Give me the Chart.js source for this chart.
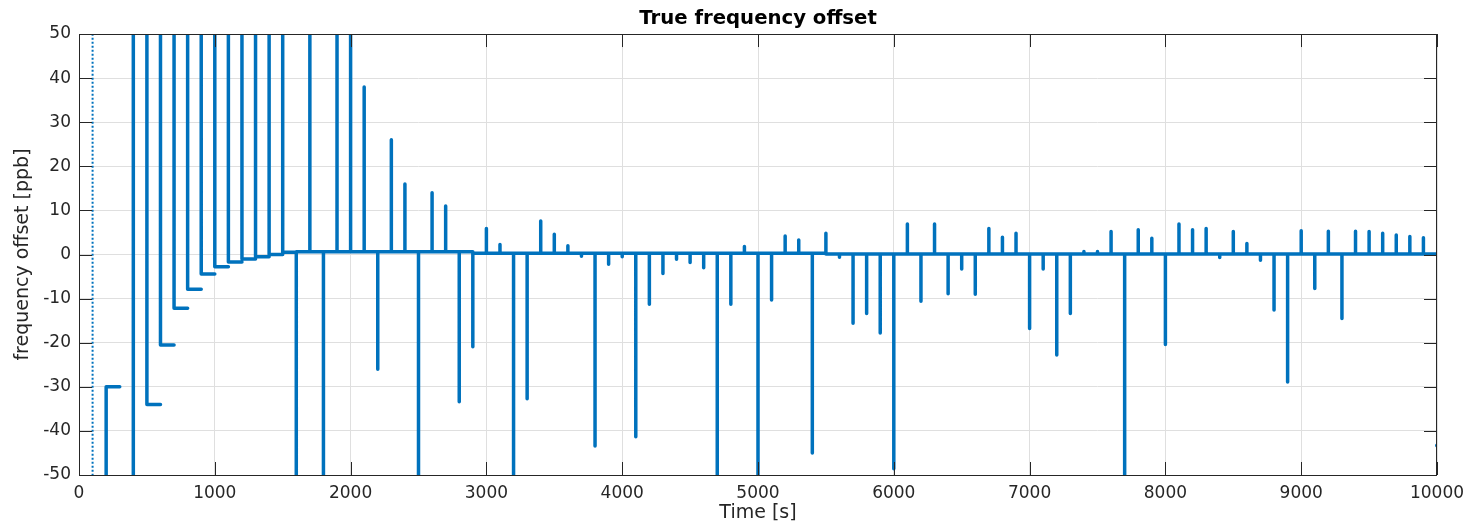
<!DOCTYPE html>
<html>
<head>
<meta charset="utf-8">
<script src="https://cdn.jsdelivr.net/npm/chart.js@4.4.1/dist/chart.umd.min.js"></script>
<style>
  html, body { margin: 0; padding: 0; background: #ffffff; }
  canvas { display: block; }
</style>
</head>
<body>
<canvas id="chart" width="1476" height="526"></canvas>
<script>
// event times [s] - one correction step every 100 s
const eventTimes = [
  200, 300, 400, 500, 600, 700, 800, 900, 1000, 1100,
  1200, 1300, 1400, 1500, 1600, 1700, 1800, 1900, 2000, 2100,
  2200, 2300, 2400, 2500, 2600, 2700, 2800, 2900, 3000, 3100,
  3200, 3300, 3400, 3500, 3600, 3700, 3800, 3900, 4000, 4100,
  4200, 4300, 4400, 4500, 4600, 4700, 4800, 4900, 5000, 5100,
  5200, 5300, 5400, 5500, 5600, 5700, 5800, 5900, 6000, 6100,
  6200, 6300, 6400, 6500, 6600, 6700, 6800, 6900, 7000, 7100,
  7200, 7300, 7400, 7500, 7600, 7700, 7800, 7900, 8000, 8100,
  8200, 8300, 8400, 8500, 8600, 8700, 8800, 8900, 9000, 9100,
  9200, 9300, 9400, 9500, 9600, 9700, 9800, 9900
];

// peak offset right after each step [ppb] (+/-80 = off the plotted range)
const peakOffsets = [
  -80, -80, -80, 80, 80, 80, 80, 80, 80, 80,
  80, 80, 80, 80, -80, 80, -80, 80, 80, 38,
  -26, 26, 16, -80, 14, 11, -33.4, -20.9, 5.9, 2.3,
  -80, -32.7, 7.6, 4.6, 2.0, -0.4, -43.4, -2.2, -0.5, -41.3,
  -11.3, -4.3, -1.1, -1.8, -3.0, -80, -11.3, 1.8, -80, -10.3,
  4.2, 3.3, -45, 4.8, -0.6, -15.6, -13.4, -17.8, -48.6, 6.9,
  -10.6, 6.9, -8.9, -3.3, -9.0, 5.9, 3.9, 4.8, -16.8, -3.3,
  -22.8, -13.4, 0.7, 0.7, 5.2, -80, 5.6, 3.7, -20.4, 6.9,
  5.6, 5.9, -0.7, 5.2, 2.5, -1.3, -12.6, -28.9, 5.4, -7.7,
  5.3, -14.5, 5.3, 5.2, 4.8, 4.4, 4.1, 3.8
];

// level the offset settles to until the next step [ppb]
const settledOffsets = [
  -30, -80, 80, -34, -20.5, -12.2, -7.9, -4.4, -2.8, -1.7,
  -1.0, -0.5, 0.0, 0.5, 0.6, 0.6, 0.6, 0.6, 0.6, 0.6,
  0.6, 0.6, 0.6, 0.6, 0.6, 0.6, 0.6, 0.3, 0.3, 0.3,
  0.3, 0.3, 0.3, 0.3, 0.3, 0.3, 0.3, 0.3, 0.3, 0.3,
  0.3, 0.3, 0.3, 0.3, 0.3, 0.3, 0.3, 0.3, 0.3, 0.3,
  0.3, 0.3, 0.3, 0.1, 0.1, 0.1, 0.1, 0.1, 0.1, 0.1,
  0.1, 0.1, 0.1, 0.1, 0.1, 0.1, 0.1, 0.1, 0.1, 0.1,
  0.1, 0.1, 0.1, 0.1, 0.1, 0.1, 0.1, 0.1, 0.1, 0.1,
  0.1, 0.1, 0.1, 0.1, 0.1, 0.1, 0.1, 0.1, 0.1, 0.1,
  0.1, 0.1, 0.1, 0.1, 0.1, 0.1, 0.1, 0.1
];

// first sweep through the whole range (sparse samples, looks dotted)
const initialSweep = [{ x: 100, y: 80 }, { x: 100, y: -80 }];
// last logged sample
const finalSample = [{ x: 10000, y: -43.3 }];
const endTime = 10000;

const xTicks = [0, 1000, 2000, 3000, 4000, 5000, 6000, 7000, 8000, 9000, 10000];
const yTicks = [-50, -40, -30, -20, -10, 0, 10, 20, 30, 40, 50];

const matlabBlue = '#0072BD';
const axisColor = '#262626';
const TICK_LEN = 13;

// jumps are instantaneous (no samples), so the line is broken before each peak
function buildTrace() {
  const pts = [];
  eventTimes.forEach((t, i) => {
    if (i > 0) {
      pts.push({ x: t, y: settledOffsets[i - 1] });
      pts.push({ x: t, y: null });
    }
    pts.push({ x: t, y: peakOffsets[i] });
    pts.push({ x: t, y: settledOffsets[i] });
  });
  pts.push({ x: endTime, y: settledOffsets[settledOffsets.length - 1] });
  return pts;
}

const matlabFrame = {
  id: 'matlabFrame',
  afterDatasetsDraw(chart) {
    const { ctx, chartArea: a, scales } = chart;
    ctx.save();
    ctx.strokeStyle = axisColor;
    ctx.lineWidth = 1;
    ctx.beginPath();
    xTicks.forEach((v) => {
      const px = Math.round(scales.x.getPixelForValue(v)) + 0.5;
      ctx.moveTo(px, a.bottom);
      ctx.lineTo(px, a.bottom - TICK_LEN);
      ctx.moveTo(px, a.top);
      ctx.lineTo(px, a.top + TICK_LEN);
    });
    yTicks.forEach((v) => {
      const py = Math.round(scales.y.getPixelForValue(v)) + 0.5;
      ctx.moveTo(a.left, py);
      ctx.lineTo(a.left + TICK_LEN, py);
      ctx.moveTo(a.right, py);
      ctx.lineTo(a.right - TICK_LEN, py);
    });
    ctx.stroke();
    ctx.strokeRect(Math.round(a.left) + 0.5, Math.round(a.top) + 0.5,
      Math.round(a.width) - 1, Math.round(a.height));
    ctx.restore();
  }
};

Chart.defaults.font.family = '"DejaVu Sans", sans-serif';
Chart.defaults.color = axisColor;

new Chart(document.getElementById('chart').getContext('2d'), {
  type: 'line',
  data: {
    datasets: [
      {
        label: 'offset',
        data: buildTrace(),
        borderColor: matlabBlue,
        backgroundColor: matlabBlue,
        borderWidth: 3.5,
        borderJoinStyle: 'round',
        borderCapStyle: 'round',
        pointRadius: 0,
        spanGaps: false,
        tension: 0
      },
      {
        label: 'sweep',
        data: initialSweep,
        borderColor: matlabBlue,
        borderWidth: 2,
        borderDash: [2, 2],
        pointRadius: 0
      },
      {
        label: 'last',
        data: finalSample,
        showLine: false,
        pointRadius: 2,
        pointBorderWidth: 0,
        pointBackgroundColor: matlabBlue
      }
    ]
  },
  options: {
    responsive: false,
    animation: false,
    events: [],
    layout: { padding: { left: 0, right: 39, top: 0, bottom: 0 } },
    plugins: {
      legend: { display: false },
      tooltip: { enabled: false },
      title: {
        display: true,
        fullSize: false,
        text: 'True frequency offset',
        color: '#000000',
        font: { size: 19.7, weight: 'bold' },
        padding: { top: 7, bottom: 3.4 }
      }
    },
    scales: {
      x: {
        type: 'linear',
        min: 0,
        max: 10000,
        afterFit: (scale) => { scale.height = 51; },
        afterBuildTicks: (scale) => { scale.ticks = xTicks.map((v) => ({ value: v })); },
        ticks: {
          font: { size: 17 },
          color: axisColor,
          padding: 8,
          maxRotation: 0,
          callback: (v) => String(v)
        },
        grid: { color: '#dfdfdf', lineWidth: 1, drawTicks: false },
        border: { display: false },
        title: {
          display: true,
          text: 'Time [s]',
          color: axisColor,
          font: { size: 19 },
          padding: { top: 0, bottom: 2 }
        }
      },
      y: {
        type: 'linear',
        min: -50,
        max: 50,
        afterFit: (scale) => { scale.width = 79; },
        afterBuildTicks: (scale) => { scale.ticks = yTicks.map((v) => ({ value: v })); },
        ticks: {
          font: { size: 17 },
          color: axisColor,
          padding: 8,
          callback: (v) => String(v)
        },
        grid: { color: '#dfdfdf', lineWidth: 1, drawTicks: false },
        border: { display: false },
        title: {
          display: true,
          text: 'frequency offset [ppb]',
          color: axisColor,
          font: { size: 19 },
          padding: { top: 11.5, bottom: 0 }
        }
      }
    }
  },
  plugins: [matlabFrame]
});
</script>
</body>
</html>
